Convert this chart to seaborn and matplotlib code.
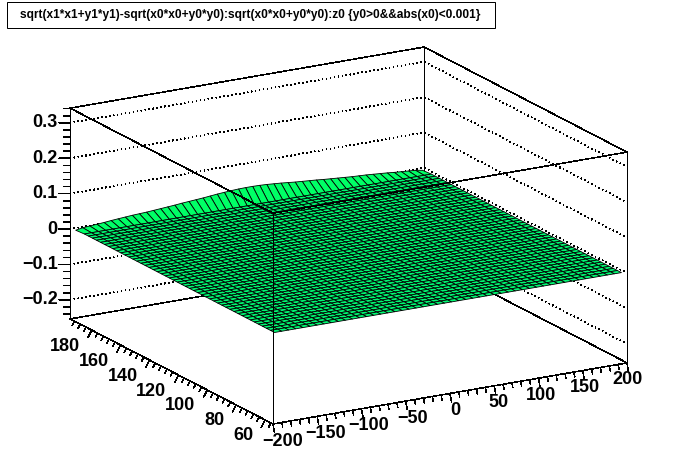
import numpy as np
import matplotlib
matplotlib.use('Agg')
import matplotlib.pyplot as plt
from matplotlib.patches import Rectangle
from matplotlib.colors import to_rgba
from mpl_toolkits.mplot3d import proj3d
import seaborn as sns

TITLE = 'sqrt(x1*x1+y1*y1)-sqrt(x0*x0+y0*y0):sqrt(x0*x0+y0*y0):z0 {y0>0&&abs(x0)<0.001}'

# axis ranges
x_range = [-200, 200]
y_range = [54.5, 195]
z_range = [-0.2538, 0.3415]

# bin centres of the surface
x_bins = [-196, -188, -180, -172, -164, -156, -148, -140, -132, -124,
          -116, -108, -100, -92, -84, -76, -68, -60, -52, -44,
          -36, -28, -20, -12, -4, 4, 12, 20, 28, 36,
          44, 52, 60, 68, 76, 84, 92, 100, 108, 116,
          124, 132, 140, 148, 156, 164, 172, 180, 188, 196]
y_bins = [55.9, 58.7, 61.5, 64.3, 67.1, 69.9, 72.7, 75.6, 78.4, 81.2,
          84.0, 86.8, 89.6, 92.4, 95.2, 98.0, 100.8, 103.6, 106.4, 109.2,
          112.0, 114.8, 117.6, 120.4, 123.2, 126.0, 128.8, 131.6, 134.4, 137.2,
          140.0, 142.8, 145.6, 148.4, 151.2, 154.0, 156.8, 159.6, 162.4, 165.2,
          168.0, 170.8, 173.6, 176.4, 179.2, 182.0, 184.8, 187.6, 193.6]

# the surface is flat except for the last row
flat_row = [0.0] * 50
last_row = [-0.002, 0.0015, 0.003, 0.0045, 0.006, 0.008, 0.0095, 0.011, 0.0125, 0.0135,
            0.0145, 0.016, 0.0175, 0.019, 0.0205, 0.0225, 0.024, 0.0255, 0.027, 0.029,
            0.031, 0.0325, 0.034, 0.035, 0.0355, 0.0355, 0.035, 0.034, 0.0325, 0.031,
            0.029, 0.027, 0.0255, 0.024, 0.0225, 0.0205, 0.019, 0.0175, 0.016, 0.0145,
            0.0135, 0.0125, 0.011, 0.0095, 0.008, 0.006, 0.0045, 0.003, 0.0015, -0.002]

x_major = [-200, -150, -100, -50, 0, 50, 100, 150, 200]
x_labels = ['\u2212200', '\u2212150', '\u2212100', '\u221250', '0', '50', '100', '150', '200']
y_major = [60, 80, 100, 120, 140, 160, 180]
z_major = [-0.2, -0.1, 0, 0.1, 0.2, 0.3]
z_labels = ['\u22120.2', '\u22120.1', '0', '0.1', '0.2', '0.3']

SURF_COLOR = '#00F872'
STRIP_COLOR = '#00FF66'
THIN = 0.4

sns.set_theme(style='white')
plt.rcParams['font.family'] = ['Liberation Sans', 'DejaVu Sans']
plt.rcParams['font.weight'] = 'bold'
plt.rcParams['text.color'] = 'black'

fig = plt.figure(figsize=(6.96, 4.72), dpi=100, facecolor='white')
W, H = 696, 472


def set_square(cx, cy, side):
    ax.set_position([(cx - side / 2) / W, (cy - side / 2) / H, side / W, side / H])


def project(x, y, z):
    xs, ys, _ = proj3d.proj_transform(x, y, z, ax.get_proj())
    return ax.transData.transform((xs, ys))


def px_shift(ox, oy):
    """Data shift (dy, dz) that moves a point ox px right and oy px down on screen."""
    dy = -ox / 1.45
    dz = (-0.75 * dy - oy) / 354.6
    return dy, dz


def tick_label(x, y, z, s, ox, oy, ha):
    p = project(x, y, z)
    fig.text((p[0] + ox) / W, (p[1] - oy) / H, s, ha=ha, va='center', fontsize=13, fontweight='bold')


ax = fig.add_axes([0, 0, 1, 1], projection='3d', proj_type='ortho', computed_zorder=False)
ax.set_xlim(*x_range, view_margin=0)
ax.set_ylim(*y_range, view_margin=0)
ax.set_zlim(*z_range, view_margin=0)
ax.set_box_aspect((409, 406, 221))
ax.view_init(elev=17.4, azim=-120)
ax.set_axis_off()

# fit the box on the canvas: near bottom corner and right top corner
cx, cy, side = 348.0, 236.0, 900.0
set_square(cx, cy, side)
for _ in range(3):
    fig.canvas.draw()
    p0 = project(x_range[0], y_range[0], z_range[0])
    p1 = project(x_range[1], y_range[0], z_range[1])
    side *= (627 - 273) / (p1[0] - p0[0])
    set_square(cx, cy, side)
    fig.canvas.draw()
    p0 = project(x_range[0], y_range[0], z_range[0])
    cx += 273 - p0[0]
    cy += (H - 424) - p0[1]
    set_square(cx, cy, side)
fig.canvas.draw()

x0, x1 = x_range
y0, y1 = y_range
z0, z1 = z_range
line = dict(color='black', lw=THIN, antialiased=False)

# back walls and floor
ax.plot([x0, x0], [y1, y1], [z0, z1], zorder=1, **line)
ax.plot([x1, x1], [y1, y1], [z0, z1], zorder=1, **line)
ax.plot([x1, x1], [y0, y0], [z0, z1], zorder=1, **line)
ax.plot([x0, x1, x1], [y1, y1, y0], [z1, z1, z1], zorder=1, **line)
ax.plot([x0, x1, x1], [y1, y1, y0], [z0, z0, z0], zorder=1, **line)
for z in z_major:
    ax.plot([x0, x1, x1], [y1, y1, y0], [z, z, z], zorder=1, color='black', lw=0.5,
            linestyle=(0, (0.7, 5.04)), antialiased=False)

# surface
X, Y = np.meshgrid(x_bins, y_bins)
Z = np.array([flat_row] * (len(y_bins) - 1) + [last_row])
colors = np.empty(Z.shape + (4,))
colors[:] = to_rgba(SURF_COLOR)
colors[-2, :] = to_rgba(STRIP_COLOR)
ax.plot_surface(X, Y, Z, rstride=1, cstride=1, facecolors=colors, shade=False,
                edgecolor='black', linewidth=0.6, antialiased=True, zorder=2)

# front edges of the box
ax.plot([x0, x0], [y0, y0], [z0, z1], zorder=3, **line)
ax.plot([x0, x0, x1], [y1, y0, y0], [z1, z1, z1], zorder=3, **line)
ax.plot([x0, x0, x1], [y1, y0, y0], [z0, z0, z0], zorder=3, **line)

# x axis ticks
for v in range(-200, 201, 10):
    size = 8.5 if v % 50 == 0 else 5
    dy, dz = px_shift(0.17 * size, 0.985 * size)
    ax.plot([v, v], [y0, y0 + dy], [z0, z0 + dz], zorder=3, **line)
for v, s in zip(x_major, x_labels):
    tick_label(v, y0, z0, s, 5.2 - 0.0225 * v, 17, 'center')

# y axis ticks
for v in range(56, 196, 4):
    size = 8.5 if v % 20 == 0 else 5
    dy, dz = px_shift(-0.46 * size, 0.89 * size)
    ax.plot([x0, x0], [v, v + dy], [z0, z0 + dz], zorder=3, **line)
for v in y_major:
    tick_label(x0, v, z0, str(v), -12, 16, 'right')

# z axis ticks, on the left edge
for i in range(-12, 18):
    v = i * 0.02
    size = 11 if i % 5 == 0 else 6.5
    dy, dz = px_shift(-size, 0)
    ax.plot([x0, x0], [y1, y1 + dy], [v, v + dz], zorder=3, **line)
for v, s in zip(z_major, z_labels):
    tick_label(x0, y1, v, s, -12.5, 0, 'right')

# title box
fig.add_artist(Rectangle((6.5 / W, 1 - 28 / H), 488 / W, 25.5 / H, transform=fig.transFigure,
                         facecolor='white', edgecolor='black', lw=0.72))
fig.text(250.5 / W, 1 - 15 / H, TITLE, ha='center', va='center', fontsize=8.6, fontweight='bold')

fig.savefig('out.png', dpi=100)
plt.close(fig)
